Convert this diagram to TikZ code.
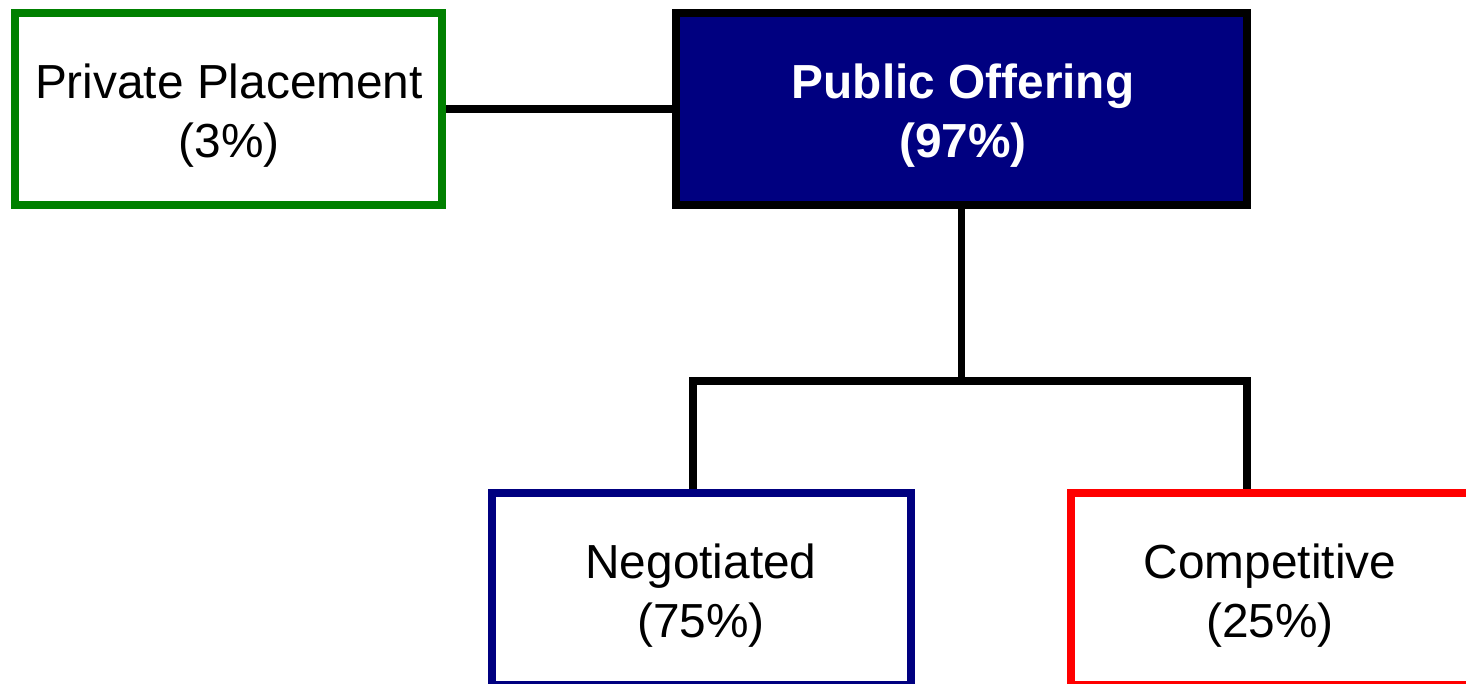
\documentclass[tikz,border=0pt]{standalone}
\usepackage{fontspec}
\setmainfont{Liberation Sans}
\definecolor{pgreen}{HTML}{008000}
\definecolor{pnavy}{HTML}{000080}
\definecolor{pred}{HTML}{FF0000}
\pgfdeclarelayer{bg}
\pgfsetlayers{bg,main}
\begin{document}
\begin{tikzpicture}[x=1pt,y=-1pt,
  box/.style={draw, rectangle, line width=7.5pt, inner sep=0pt, minimum height=192pt},
  txt/.style={align=center, inner sep=0pt, font=\fontsize{47.8}{58.5}\selectfont},
  conn/.style={draw=black, line width=7.5pt, line join=miter}]
\useasboundingbox (0,0) rectangle (1466,683);
\clip (0,0) rectangle (1466,683);
\node[box, draw=pgreen, fill=white, minimum width=427pt] (priv) at (228.5,109) {};
\node[box, draw=black, fill=pnavy, minimum width=571pt] (pub) at (961.5,109) {};
\node[box, draw=pnavy, fill=white, minimum width=419pt] (neg) at (701.5,589) {};
\node[box, draw=pred, fill=white, minimum width=420pt] (comp) at (1281,589) {};
\node[txt] (privt) at (229,115.4) {Private Placement\\(3\%)};
\node[txt, text=white, font=\fontsize{47.8}{58.5}\selectfont\bfseries] (pubt) at (963,115.4) {Public Offering\\(97\%)};
\node[txt] (negt) at (701,595.4) {Negotiated\\(75\%)};
\node[txt] (compt) at (1270,595.4) {Competitive\\(25\%)};
\coordinate (jl) at (693,381);
\coordinate (jr) at (1247,381);
\begin{pgfonlayer}{bg}
\draw[conn] (priv.east) -- (pub.west);
\draw[conn] (pub.south) -- (pub.south |- jl);
\draw[conn] (jl |- neg.north) -- (jl) -- (jr) -- (jr |- comp.north);
\end{pgfonlayer}
\end{tikzpicture}
\end{document}
